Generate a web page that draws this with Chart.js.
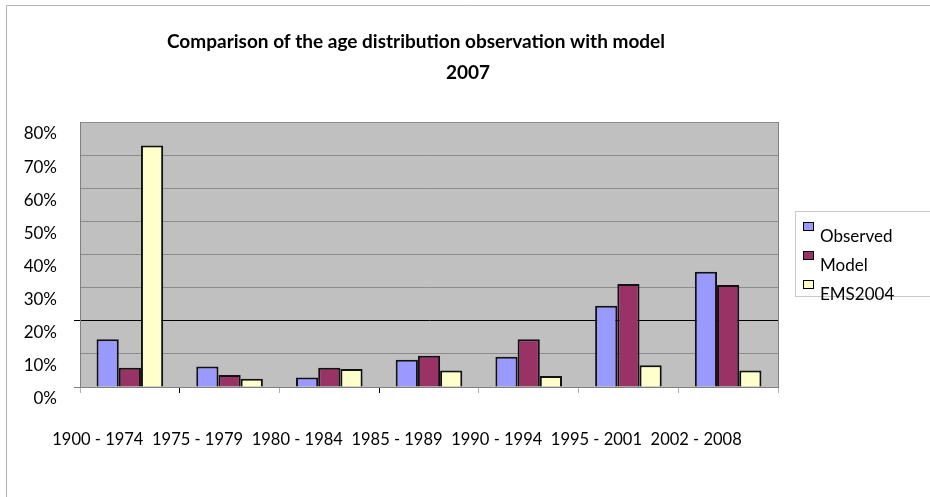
<!DOCTYPE html>
<html>
<head>
<meta charset="utf-8">
<script src="https://cdn.jsdelivr.net/npm/chart.js@4.4.1/dist/chart.umd.min.js"></script>
<style>
  html, body { margin: 0; padding: 0; background: #fff; }
  canvas { display: block; }
</style>
</head>
<body>
<canvas id="ageChart" width="930" height="497"></canvas>
<script>
const categories = ['1900 - 1974', '1975 - 1979', '1980 - 1984', '1985 - 1989', '1990 - 1994', '1995 - 2001', '2002 - 2008'];
const observed = [0.144, 0.062, 0.029, 0.082, 0.091, 0.245, 0.348];
const model = [0.058, 0.036, 0.058, 0.094, 0.144, 0.311, 0.308];
const ems2004 = [0.729, 0.025, 0.054, 0.050, 0.033, 0.066, 0.050];
const titleLines = ['Comparison of the age distribution observation with model', '2007'];

const FONT = 'Lato, "Open Sans", sans-serif';

// grey plot area, frame, title, outer border and legend
const excelLook = {
  id: 'excelLook',
  beforeDraw(chart) {
    const { ctx, chartArea: a } = chart;
    ctx.save();
    ctx.fillStyle = '#c0c0c0';
    ctx.fillRect(a.left, a.top, a.right - a.left, a.bottom - a.top);
    ctx.restore();
  },
  afterDraw(chart) {
    const { ctx, chartArea: a } = chart;
    ctx.save();
    // plot frame
    ctx.strokeStyle = '#808080';
    ctx.lineWidth = 1;
    ctx.beginPath();
    ctx.moveTo(Math.round(a.right) + 0.5, a.top);
    ctx.lineTo(Math.round(a.right) + 0.5, a.bottom);
    ctx.stroke();

    // outer chart border (left + top)
    ctx.strokeStyle = '#b3b3b3';
    ctx.beginPath();
    ctx.moveTo(6.5, 497);
    ctx.lineTo(6.5, 5.5);
    ctx.lineTo(930, 5.5);
    ctx.stroke();

    // title
    ctx.fillStyle = '#000';
    ctx.font = 'bold 19px ' + FONT;
    ctx.textBaseline = 'alphabetic';
    ctx.textAlign = 'left';
    ctx.fillText(titleLines[0], 167, 48);
    ctx.textAlign = 'center';
    ctx.fillText(titleLines[1], 468, 79);

    // legend
    ctx.strokeStyle = '#c8c8c8';
    ctx.strokeRect(795.5, 211.5, 140, 85);
    ctx.font = '17px ' + FONT;
    ctx.textAlign = 'left';
    chart.data.datasets.forEach((ds, i) => {
      const y = 222 + i * 29;
      ctx.fillStyle = ds.backgroundColor;
      ctx.fillRect(803, y, 11, 9);
      ctx.strokeStyle = '#000';
      ctx.strokeRect(803.5, y + 0.5, 10, 8);
      ctx.fillStyle = '#000';
      ctx.fillText(ds.label, 820, y + 20);
    });
    ctx.restore();
  }
};

const isVal = (v, t) => Math.abs(v - t) < 1e-6;

new Chart(document.getElementById('ageChart'), {
  type: 'bar',
  data: {
    labels: categories,
    datasets: [
      { label: 'Observed', data: observed, backgroundColor: '#9999ff' },
      { label: 'Model', data: model, backgroundColor: '#993366' },
      { label: 'EMS2004', data: ems2004, backgroundColor: '#ffffcc' }
    ]
  },
  options: {
    responsive: false,
    animation: false,
    devicePixelRatio: 1,
    layout: { padding: { left: 0, top: 122, right: 152, bottom: 0 } },
    datasets: {
      bar: {
        borderColor: '#111',
        borderWidth: 2,
        categoryPercentage: 0.668,
        barPercentage: 1.0
      }
    },
    plugins: {
      legend: { display: false },
      title: { display: false },
      tooltip: { enabled: false }
    },
    scales: {
      x: {
        afterFit: (s) => { s.height = 110; },
        grid: {
          offset: true,
          drawOnChartArea: false,
          drawTicks: true,
          tickLength: 6,
          tickColor: (c) => (c.index === 1 || c.index === 3) ? '#000' : '#b0b0b0'
        },
        border: { display: true, color: '#808080' },
        ticks: {
          font: { family: FONT, size: 16.5 },
          color: '#000',
          padding: 37,
          labelOffset: -32,
          maxRotation: 0,
          autoSkip: false
        }
      },
      y: {
        min: 0,
        max: 0.8,
        afterFit: (s) => { s.width = 80; },
        grid: {
          drawTicks: true,
          tickLength: 6,
          color: (c) => isVal(c.tick.value, 0.2) ? '#000' : '#8c8c8c',
          tickColor: (c) => isVal(c.tick.value, 0.2) ? '#000' : (isVal(c.tick.value, 0) ? '#808080' : 'rgba(0,0,0,0)')
        },
        border: { display: true, color: '#808080' },
        ticks: {
          stepSize: 0.1,
          font: { family: FONT, size: 17 },
          color: '#000',
          padding: 17,
          labelOffset: 12,
          callback: (v) => Math.round(v * 100) + '%'
        }
      }
    }
  },
  plugins: [excelLook]
});
</script>
</body>
</html>
